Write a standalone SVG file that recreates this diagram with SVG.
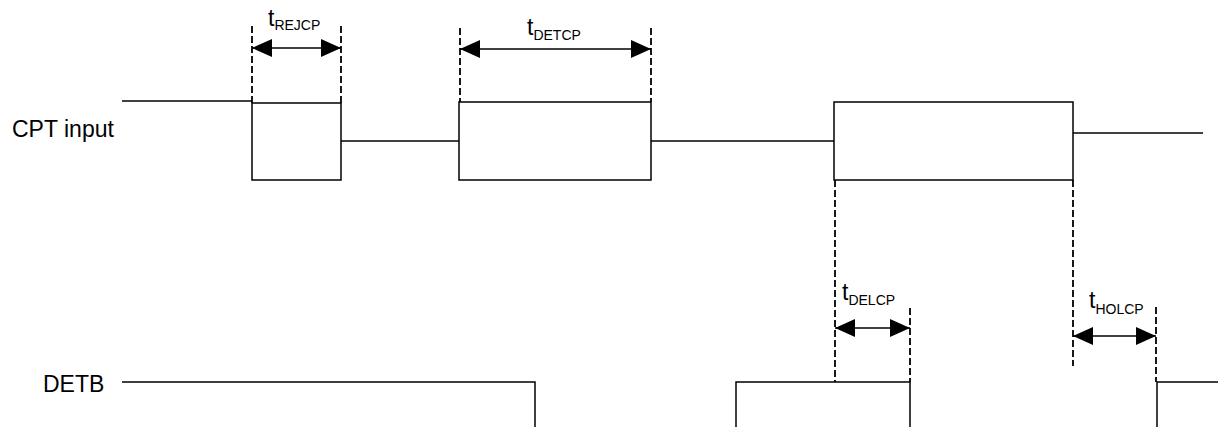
<svg xmlns="http://www.w3.org/2000/svg" width="1218" height="427" viewBox="0 0 1218 427">
<style>
.w{fill:none;stroke:#000;stroke-width:1.5}
.d{fill:none;stroke:#000;stroke-width:1.8;stroke-dasharray:7,3}
.a{fill:none;stroke:#000;stroke-width:1.5;marker-start:url(#ah);marker-end:url(#ah)}
.t{font-family:"Liberation Sans",Arial,sans-serif;font-size:23px;fill:#000}
.s{font-size:14px}
</style>
<defs>
<marker id="ah" viewBox="0 0 20 18" refX="20" refY="9" markerWidth="20" markerHeight="18" markerUnits="userSpaceOnUse" orient="auto-start-reverse">
<path d="M0,0 L20,9 L0,18 Z" fill="#000"/>
</marker>
</defs>
<g id="labels">
<text class="t" x="12" y="137">CPT input</text>
<text class="t" x="43" y="392">DETB</text>
</g>
<g id="cpt">
<polyline class="w" points="122,101 252,101"/>
<rect class="w" x="252" y="103" width="89" height="77"/>
<polyline class="w" points="341,141 459,141"/>
<rect class="w" x="459" y="102" width="192" height="78"/>
<polyline class="w" points="651,141 834,141"/>
<rect class="w" x="834" y="102" width="239" height="78"/>
<polyline class="w" points="1073,133 1203,133"/>
</g>
<g id="detb">
<polyline class="w" points="122,382 535,382 535,427"/>
<polyline class="w" points="736,427 736,382 910,382 910,427"/>
<polyline class="w" points="1157,427 1157,382 1218,382"/>
</g>
<g id="connectors">
<line class="d" x1="252" y1="26" x2="252" y2="103"/>
<line class="d" x1="341" y1="26" x2="341" y2="103"/>
<line class="d" x1="460" y1="28" x2="460" y2="102"/>
<line class="d" x1="651" y1="28" x2="651" y2="102"/>
<line class="d" x1="835" y1="180" x2="835" y2="382"/>
<line class="d" x1="910" y1="308" x2="910" y2="382"/>
<line class="d" x1="1073" y1="180" x2="1073" y2="366"/>
<line class="d" x1="1156" y1="307" x2="1156" y2="382"/>
<line class="a" x1="252" y1="48" x2="341" y2="48"/>
<line class="a" x1="460" y1="49" x2="651" y2="49"/>
<line class="a" x1="835" y1="328" x2="910" y2="328"/>
<line class="a" x1="1073" y1="336" x2="1156" y2="336"/>
</g>
<g id="timing-labels">
<text class="t" x="268" y="26">t<tspan class="s" dy="4">REJCP</tspan></text>
<text class="t" x="527" y="35">t<tspan class="s" dy="5">DETCP</tspan></text>
<text class="t" x="842" y="300">t<tspan class="s" dy="5">DELCP</tspan></text>
<text class="t" x="1089" y="308">t<tspan class="s" dy="6">HOLCP</tspan></text>
</g>
</svg>
